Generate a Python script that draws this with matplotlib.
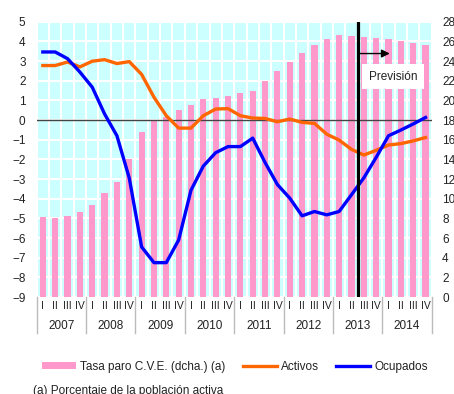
import numpy as np
import matplotlib
matplotlib.use("Agg")
import matplotlib.pyplot as plt
from matplotlib.patches import Patch
from matplotlib.lines import Line2D

plt.rcParams['font.family'] = ['Liberation Sans', 'DejaVu Sans']

# quarterly series, 2007 Q1 .. 2014 Q4
years = ['2007', '2008', '2009', '2010', '2011', '2012', '2013', '2014']
quarters = ['I', 'II', 'III', 'IV']

tasa_paro = [8.15, 8.0, 8.25, 8.7, 9.4, 10.6, 11.7, 14.0,
             16.8, 18.0, 18.3, 19.0, 19.5, 20.1, 20.2, 20.4,
             20.7, 21.0, 22.0, 23.0, 23.9, 24.8, 25.6, 26.2,
             26.6, 26.5, 26.4, 26.3, 26.2, 26.0, 25.8, 25.6]

activos = [2.77, 2.77, 2.95, 2.7, 2.99, 3.07, 2.87, 2.97,
           2.32, 1.16, 0.22, -0.41, -0.41, 0.22, 0.56, 0.58,
           0.22, 0.1, 0.08, -0.09, 0.05, -0.12, -0.17, -0.72,
           -1.02, -1.49, -1.78, -1.54, -1.27, -1.2, -1.06, -0.89]

ocupados = [3.46, 3.46, 3.12, 2.44, 1.67, 0.31, -0.8, -2.95,
            -6.45, -7.25, -7.25, -6.1, -3.57, -2.34, -1.66, -1.35,
            -1.35, -0.92, -2.16, -3.28, -3.97, -4.87, -4.65, -4.82,
            -4.65, -3.8, -2.94, -1.9, -0.8, -0.51, -0.2, 0.13]

n = len(tasa_paro)
x = np.arange(n)
forecast_start = 25.5   # between 2013 II and 2013 III

txt = '#222222'
fig = plt.figure(figsize=(4.54, 3.94), dpi=100)
ax = fig.add_axes([0.0808, 0.246, 0.8701, 0.699])
ax2 = ax.twinx()

# bars on the main axes (right scale), lines on the twin (left scale)
ax.set_facecolor('#CCFFFF')
ax.bar(x, tasa_paro, width=0.5, color='#FF99CC', zorder=2)
ax.set_xlim(-0.5, n - 0.5)
ax.set_ylim(0, 28)
ax.set_yticks(np.arange(0, 29, 2))
ax.yaxis.tick_right()
ax.set_xticks(x)
ax.set_xticklabels(quarters * len(years), fontsize=7.5, color=txt)
ax.set_xticks(np.arange(-0.5, n, 1), minor=True)
ax.tick_params(axis='x', which='both', length=0, pad=3)
ax.tick_params(axis='y', length=0, pad=7.5, labelsize=8.5, labelcolor=txt)
ax.grid(True, axis='y', color='white', lw=1.5, zorder=1)
ax.grid(True, axis='x', which='minor', color='white', lw=1.5, zorder=1)
ax.set_axisbelow(True)
for s in ax.spines.values():
    s.set_visible(False)

ax2.yaxis.tick_left()
ax2.set_ylim(-9, 5)
ax2.set_yticks(np.arange(-9, 6, 1))
ax2.tick_params(axis='y', length=0, pad=8, labelsize=8.5, labelcolor=txt)
for s in ax2.spines.values():
    s.set_visible(False)

ax2.axhline(0, color='#444444', lw=1, zorder=3)
ax2.plot(x, activos, color='#FF6600', lw=2.4, zorder=4, solid_joinstyle='round')
ax2.plot(x, ocupados, color='#0000FF', lw=2.4, zorder=4, solid_joinstyle='round')
ax2.axvline(forecast_start, color='black', lw=2.3, zorder=5)

# forecast label and arrow
ax2.annotate('', xy=(28.1, 3.38), xytext=(forecast_start, 3.38),
             arrowprops=dict(arrowstyle='-|>', color='black', lw=1,
                             mutation_scale=12, shrinkA=0, shrinkB=0),
             zorder=6)
ax2.text(28.35, 2.19, 'Previsión', ha='center', va='center', fontsize=8.5,
         color=txt, zorder=6,
         bbox=dict(facecolor='white', edgecolor='none', boxstyle='square,pad=0.55'))

# year labels and separators under the quarter ticks
xt = ax.get_xaxis_transform()
for k, yr in enumerate(years):
    ax.text(4 * k + 1.5, -0.105, yr, transform=xt, ha='center', va='center',
            fontsize=8.5, color=txt)
for k in range(len(years) + 1):
    ax.plot([4 * k - 0.5] * 2, [0, -0.13], transform=xt, color='#BBBBBB',
            lw=1, clip_on=False)

handles = [Patch(facecolor='#FF99CC', edgecolor='none'),
           Line2D([], [], color='#FF6600', lw=2.4),
           Line2D([], [], color='#0000FF', lw=2.4)]
labels = ['Tasa paro C.V.E. (dcha.) (a)', 'Activos', 'Ocupados']
fig.legend(handles, labels, loc='center', bbox_to_anchor=(0.517, 0.069),
           ncol=3, frameon=False, fontsize=8.5, handlelength=2.9,
           handletextpad=0.3, columnspacing=1.5, handleheight=0.6,
           labelcolor=txt)

fig.text(0.073, 0.022, '(a) Porcentaje de la población activa',
         ha='left', va='top', fontsize=8.5, color=txt)

fig.savefig('out.png', dpi=100)
